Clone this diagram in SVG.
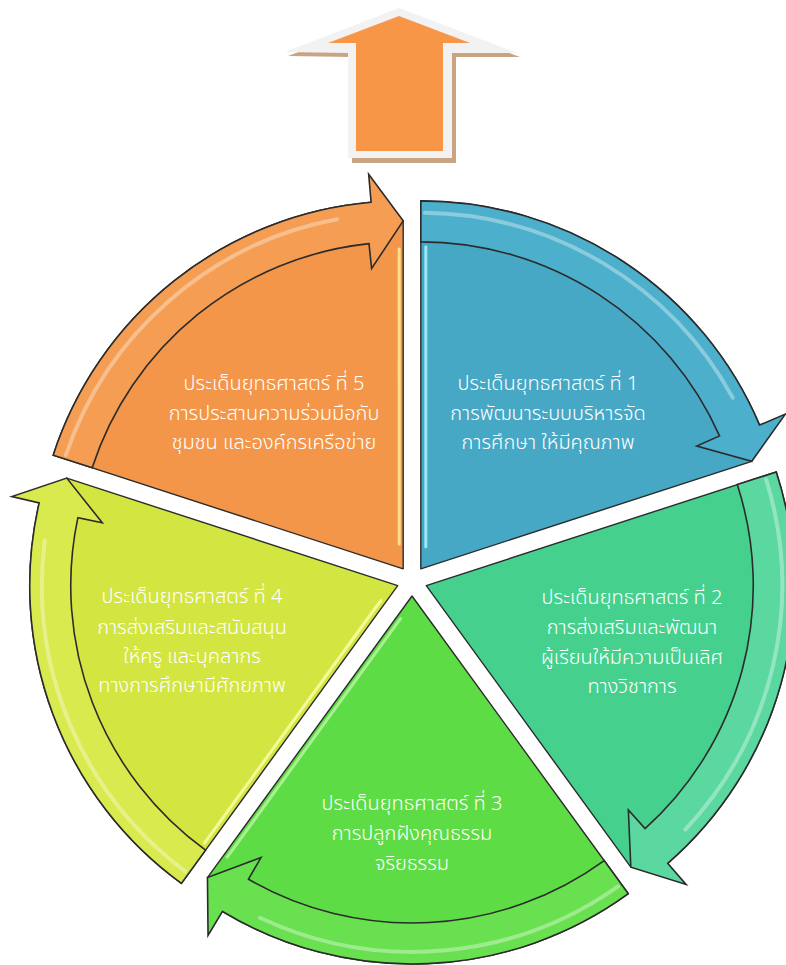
<svg xmlns="http://www.w3.org/2000/svg" width="786" height="965" viewBox="0 0 786 965">
<defs>
<style>
.body{stroke:#2b2b2b;stroke-width:1.4;stroke-linejoin:round}
.arw{stroke:#2b2b2b;stroke-width:1.6;stroke-linejoin:miter}
.gl{fill:none;stroke:#ffffff;stroke-opacity:0.35;stroke-width:4;stroke-linecap:round}
.hl{fill:none;stroke-width:3;stroke-linecap:round}
.t{font-family:"Noto Sans Thai","Noto Sans","DejaVu Sans",sans-serif;font-size:20px;font-weight:300;fill:#ffffff;text-anchor:middle}
</style>
<path id="wb" d="M0,0 L0,-368 A368,368 0 0 1 338.74,-143.79 L330.97,-107.54 Z"/>
<path id="wa" d="M0,-368 A368,368 0 0 1 338.74,-143.79 L364.52,-154.73 L330.97,-107.54 L275.89,-122.84 L298.73,-133.00 A327,327 0 0 0 0,-327 Z"/>
<path id="wg" d="M4,-356 A356,356 0 0 1 312,-171"/>
</defs>
<rect width="786" height="965" fill="#ffffff"/>

<g id="up-arrow">
<polygon points="402,12 520,57 456,57 456,163 352,163 352,57 288,56" fill="#C9A483"/>
<polygon points="399,8 517,53 452,53 452,158 348,158 348,53 285,52" fill="#F2F2F2"/>
<polygon points="399,16 470,43 443,43 443,151 356,151 356,43 328,43" fill="#F79646"/>
</g>

<g id="s1">
<g transform="translate(412 581) rotate(0) translate(8.82 -12.14)">
<use href="#wb" class="body" fill="#46A8C5"/>
<use href="#wa" class="arw" fill="#4CAFCB"/>
<use href="#wg" class="gl"/>
<path d="M5,-22 L5,-322" class="hl" stroke="#9BE6F7"/>
</g>
<text class="t" x="548" y="390">ประเด็นยุทธศาสตร์ ที่ 1</text>
<text class="t" x="548" y="420">การพัฒนาระบบบริหารจัด</text>
<text class="t" x="548" y="449">การศึกษา ให้มีคุณภาพ</text>
</g>

<g id="s2">
<g transform="translate(412 581) rotate(72) translate(8.82 -12.14)">
<use href="#wb" class="body" fill="#45D08E"/>
<use href="#wa" class="arw" fill="#5AD8A0"/>
<use href="#wg" class="gl"/>
</g>
<text class="t" x="632" y="604">ประเด็นยุทธศาสตร์ ที่ 2</text>
<text class="t" x="632" y="634">การส่งเสริมและพัฒนา</text>
<text class="t" x="632" y="664">ผู้เรียนให้มีความเป็นเลิศ</text>
<text class="t" x="632" y="693">ทางวิชาการ</text>
</g>

<g id="s3">
<g transform="translate(412 581) rotate(144) translate(8.82 -12.14)">
<use href="#wb" class="body" fill="#5EDC45"/>
<use href="#wa" class="arw" fill="#68E050"/>
<use href="#wg" class="gl"/>
<path d="M22.5,-11.5 L303,-102.7" class="hl" stroke="#A8F090"/>
</g>
<text class="t" x="412" y="810">ประเด็นยุทธศาสตร์ ที่ 3</text>
<text class="t" x="412" y="840">การปลูกฝังคุณธรรม</text>
<text class="t" x="412" y="870">จริยธรรม</text>
</g>

<g id="s4">
<g transform="translate(412 581) rotate(216) translate(8.82 -12.14)">
<use href="#wb" class="body" fill="#D3E541"/>
<use href="#wa" class="arw" fill="#D9EA4E"/>
<use href="#wg" class="gl"/>
<path d="M5,-22 L5,-322" class="hl" stroke="#F4FA9A"/>
</g>
<text class="t" x="192" y="603">ประเด็นยุทธศาสตร์ ที่ 4</text>
<text class="t" x="192" y="634">การส่งเสริมและสนับสนุน</text>
<text class="t" x="192" y="663">ให้ครู และบุคลากร</text>
<text class="t" x="192" y="692">ทางการศึกษามีศักยภาพ</text>
</g>

<g id="s5">
<g transform="translate(412 581) rotate(288) translate(8.82 -12.14)">
<use href="#wb" class="body" fill="#F3964A"/>
<use href="#wa" class="arw" fill="#F59D52"/>
<use href="#wg" class="gl"/>
<path d="M22.5,-11.5 L303,-102.7" class="hl" stroke="#FCE08A"/>
</g>
<text class="t" x="274" y="390">ประเด็นยุทธศาสตร์ ที่ 5</text>
<text class="t" x="274" y="420">การประสานความร่วมมือกับ</text>
<text class="t" x="274" y="449">ชุมชน และองค์กรเครือข่าย</text>
</g>

<g id="connectors"></g>
</svg>
